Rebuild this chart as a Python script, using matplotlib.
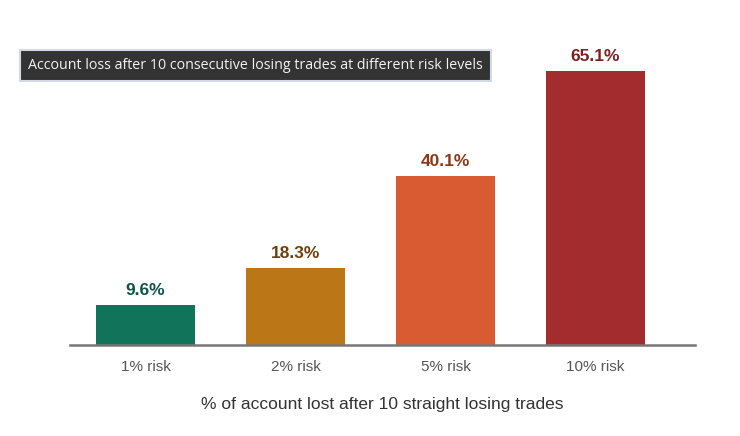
import matplotlib.pyplot as plt

categories = ["1% risk", "2% risk", "5% risk", "10% risk"]
loss_pct = [9.6, 18.3, 40.1, 65.1]
bar_colors = ["#10735a", "#ba7617", "#d85b32", "#a22c2e"]
label_colors = ["#0c5448", "#6e400c", "#8a3a12", "#7c1f1f"]

fig = plt.figure(figsize=(7.4, 4.36), dpi=100)
ax = fig.add_axes([70 / 740, 91 / 436, 625 / 740, 295 / 436])

x = range(len(categories))
ax.bar(x, loss_pct, width=0.66, color=bar_colors, zorder=2)

for xi, v, c in zip(x, loss_pct, label_colors):
    ax.text(xi, v + 1.6, f"{v:.1f}%", ha="center", va="bottom",
            fontsize=12.5, fontweight="bold", color=c, family="Liberation Sans")

ax.set_xlim(-0.503, 3.663)
ax.set_ylim(0, 70)
ax.set_xticks(list(x))
ax.set_xticklabels(categories, fontsize=11, color="#555555", family="Liberation Sans")
ax.tick_params(axis="x", length=0, pad=11)
ax.set_yticks([])
for side in ["top", "right", "left"]:
    ax.spines[side].set_visible(False)
ax.spines["bottom"].set_color("#777777")
ax.spines["bottom"].set_linewidth(1.8)

ax.set_xlabel("% of account lost after 10 straight losing trades", fontsize=12.5,
              color="#333333", family="Liberation Sans", labelpad=16)

fig.text(28 / 740, 1 - 65.5 / 436,
         "Account loss after 10 consecutive losing trades at different risk levels",
         ha="left", va="center", fontsize=10.3, color="#f2f2f2", family="Open Sans",
         bbox=dict(boxstyle="square,pad=0.58", facecolor="#333333",
                   edgecolor="#d3d9e6", linewidth=1.5))

fig.savefig("out.png", dpi=100)
